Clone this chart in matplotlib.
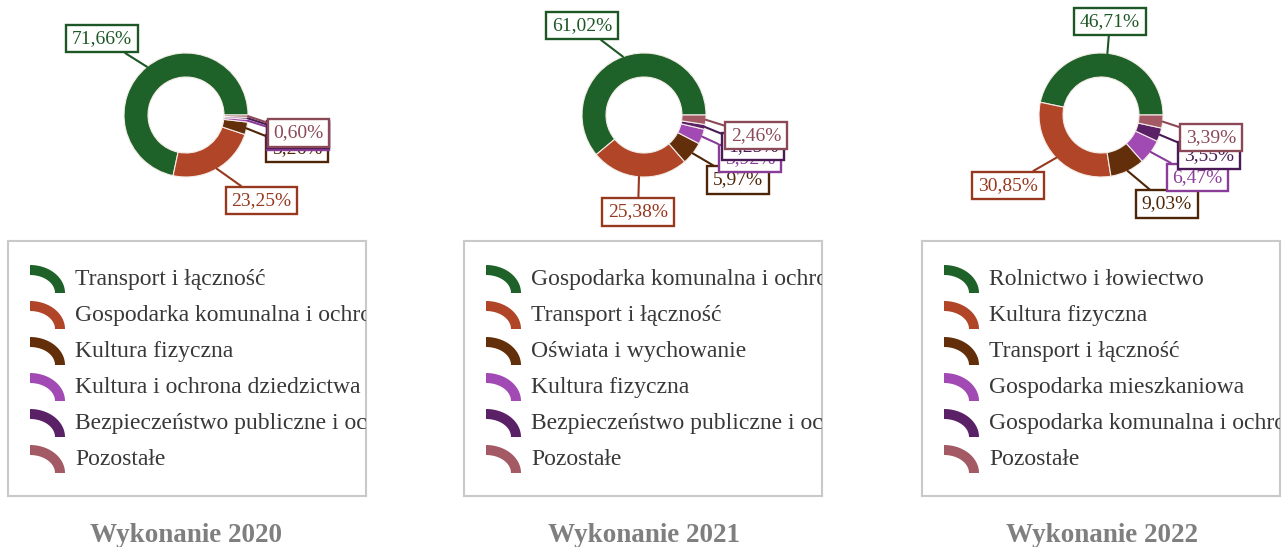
import numpy as np
import matplotlib.pyplot as plt
from matplotlib.path import Path
from matplotlib.patches import Polygon

plt.rcParams['font.family'] = ['Liberation Serif', 'DejaVu Serif']

# %% data
years = ['2020', '2021', '2022']

cat_2020 = ['Transport i łączność',
            'Gospodarka komunalna i ochrona środowiska',
            'Kultura fizyczna',
            'Kultura i ochrona dziedzictwa narodowego',
            'Bezpieczeństwo publiczne i ochrona przeciwpożarowa',
            'Pozostałe']
val_2020 = [71.66, 23.25, 3.26, 0.72, 0.51, 0.60]

cat_2021 = ['Gospodarka komunalna i ochrona środowiska',
            'Transport i łączność',
            'Oświata i wychowanie',
            'Kultura fizyczna',
            'Bezpieczeństwo publiczne i ochrona przeciwpożarowa',
            'Pozostałe']
val_2021 = [61.02, 25.38, 5.97, 3.92, 1.25, 2.46]

cat_2022 = ['Rolnictwo i łowiectwo',
            'Kultura fizyczna',
            'Transport i łączność',
            'Gospodarka mieszkaniowa',
            'Gospodarka komunalna i ochrona środowiska',
            'Pozostałe']
val_2022 = [46.71, 30.85, 9.03, 6.47, 3.55, 3.39]

categories = [cat_2020, cat_2021, cat_2022]
values = [val_2020, val_2021, val_2022]

slice_colors = ['#1f6229', '#b04527', '#632f0a', '#a24ab3', '#5a2166', '#a35a64']
label_colors = ['#1d5726', '#96391f', '#4f2507', '#8a3c99', '#4a1a56', '#8b4957']

# %% layout (pixels, y from top)
W, H = 1284, 547
centers_x = [186, 644, 1101]
center_y = 115
r_out, r_in = 62, 38
label_pos = [
    [(102, 38.5), (261.5, 200.5), (297, 148.5), (298, 136.5), (298, 134.5), (298.5, 133)],
    [(582, 25.5), (638, 212), (738, 180), (750, 158.5), (753, 146.5), (756, 135.5)],
    [(1110, 21.5), (1008, 185.5), (1167, 204), (1197.5, 177.5), (1209, 155.5), (1211, 137.5)],
]
legend_left = [8, 464, 922]
legend_top, legend_w, legend_h = 241, 358, 255
title_x = [186, 644, 1102]


def fmt(v):
    return ('%.2f' % v).replace('.', ',') + '%'


def label_box(x0, y0, width, height, mutation_size):
    # wider padding left/right than top/bottom
    px, py = 0.3 * mutation_size, 0.27 * mutation_size
    x0, y0 = x0 - px, y0 - py
    x1, y1 = x0 + width + 2 * px, y0 + height + 2 * py
    return Path([(x0, y0), (x1, y0), (x1, y1), (x0, y1), (x0, y0)], closed=True)


def arc_marker(x, y):
    # quarter ring used as legend glyph, (x, y) = lower-left corner
    t = np.linspace(0, np.pi / 2, 24)
    outer = np.column_stack([x + 35 * np.sin(t), y - 28 * np.cos(t)])
    inner = np.column_stack([x + 25 * np.sin(t), y - 18 * np.cos(t)])[::-1]
    return np.vstack([outer, inner])


fig = plt.figure(figsize=(W / 100, H / 100), dpi=100)
ax = fig.add_axes([0, 0, 1, 1])

for k in range(len(years)):
    cx, cy = centers_x[k], H - center_y
    wedges, _ = ax.pie(values[k], colors=slice_colors, startangle=0, counterclock=True,
                       radius=r_out, center=(cx, cy),
                       wedgeprops=dict(width=r_out - r_in, edgecolor='#f4ece8', linewidth=0.8))
    for i, w in enumerate(wedges):
        mid = np.deg2rad((w.theta1 + w.theta2) / 2)
        xy = (cx + r_out * np.cos(mid), cy + r_out * np.sin(mid))
        lx, ly = label_pos[k][i]
        ax.annotate(fmt(values[k][i]), xy=xy, xytext=(lx, H - ly),
                    ha='center', va='center', fontsize=14, color=label_colors[i],
                    bbox=dict(boxstyle=label_box, fc='white', ec=label_colors[i], lw=1.7),
                    arrowprops=dict(arrowstyle='-', color=label_colors[i], lw=1.5,
                                    shrinkA=0, shrinkB=0))

ax.set_xlim(0, W)
ax.set_ylim(0, H)
ax.axis('off')

# legends
for k in range(len(years)):
    lax = fig.add_axes([legend_left[k] / W, (H - legend_top - legend_h) / H,
                        legend_w / W, legend_h / H])
    lax.set_xlim(0, legend_w)
    lax.set_ylim(legend_h, 0)
    lax.set_xticks([])
    lax.set_yticks([])
    for s in lax.spines.values():
        s.set_color('#c9c9c9')
        s.set_linewidth(1.5)
    for i, name in enumerate(categories[k]):
        base = 44 + 36 * i
        lax.add_patch(Polygon(arc_marker(22, base + 8), closed=True,
                              fc=slice_colors[i], lw=0))
        lax.text(67, base, name, fontsize=17, color='#383838', va='baseline', clip_on=True)

    fig.text(title_x[k] / W, (H - 542) / H, 'Wykonanie ' + years[k], ha='center',
             va='baseline', fontsize=19.5, fontweight='bold', color='#7f7f7f')

fig.savefig('out.png', dpi=100)
